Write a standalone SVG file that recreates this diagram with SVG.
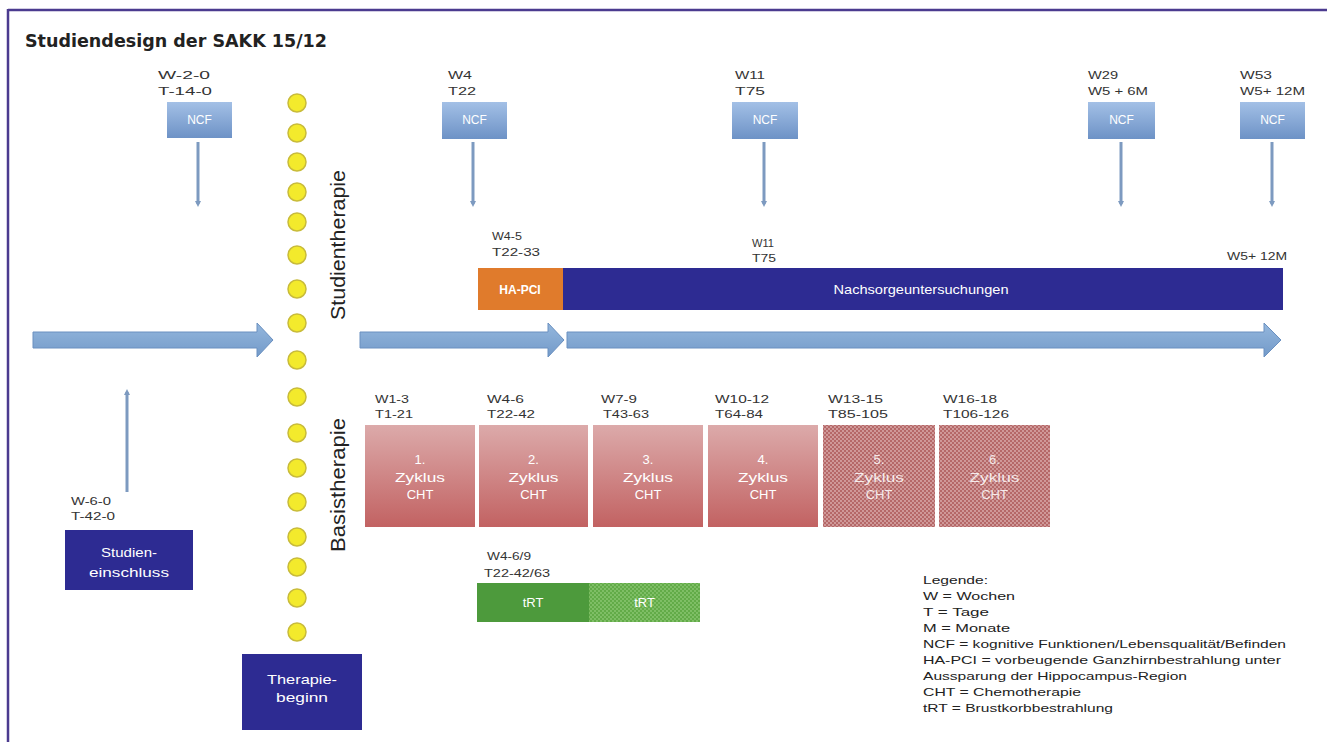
<svg xmlns="http://www.w3.org/2000/svg" width="1327" height="742" viewBox="0 0 1327 742">
<defs>
<linearGradient id="ncfG" x1="0" y1="0" x2="0" y2="1"><stop offset="0" stop-color="#a3c0e6"/><stop offset="1" stop-color="#6d92c6"/></linearGradient>
<linearGradient id="cycG" x1="0" y1="0" x2="0" y2="1"><stop offset="0" stop-color="#dcaaaa"/><stop offset="1" stop-color="#c26262"/></linearGradient>
<linearGradient id="arrG" x1="0" y1="0" x2="0" y2="1"><stop offset="0" stop-color="#94b7dd"/><stop offset="1" stop-color="#739ac9"/></linearGradient>
<pattern id="dotP" width="4" height="4" patternUnits="userSpaceOnUse"><rect width="4" height="4" fill="#b56868"/><circle cx="1" cy="1" r="0.9" fill="#dcb0b0"/><circle cx="3" cy="3" r="0.9" fill="#dcb0b0"/></pattern>
<pattern id="greenP" width="4" height="4" patternUnits="userSpaceOnUse"><rect width="4" height="4" fill="#62ab48"/><circle cx="1" cy="1" r="0.9" fill="#8cc873"/><circle cx="3" cy="3" r="0.9" fill="#8cc873"/></pattern>
<marker id="ah" markerWidth="6" markerHeight="6" refX="3" refY="3" orient="auto" markerUnits="userSpaceOnUse"><path d="M0,0 L6,3 L0,6 Z" fill="#7d9ac0"/></marker>
</defs>
<style>
.lbl{font-family:"Liberation Sans",Arial,sans-serif;font-size:10px;fill:#333}
.wt{font-family:"Liberation Sans",Arial,sans-serif;fill:#fff;text-anchor:middle}
.ncf{fill:url(#ncfG)}
.cyc{fill:url(#cycG)}
.dot{fill:#f3ea2c;stroke:#c8bb3a;stroke-width:1.5}
.vline{stroke:#7d9ac0;stroke-width:3;fill:none}
.arr{fill:url(#arrG);stroke:#6a90c0;stroke-width:1}
.dark{fill:#2d2b92}
.leg{font-family:"Liberation Sans",Arial,sans-serif;font-size:11.5px;fill:#222}
.vt{font-family:"Liberation Sans",Arial,sans-serif;font-size:21px;fill:#222}
</style>
<rect width="1327" height="742" fill="#fff"/>
<g id="frame">
<line x1="8" y1="10" x2="1327" y2="10" stroke="#4b3b8f" stroke-width="2.5"/>
<line x1="8" y1="9" x2="8" y2="742" stroke="#4b3b8f" stroke-width="2.5"/>
</g>
<text id="title" x="25" y="47" font-family="DejaVu Sans, sans-serif" font-weight="bold" font-size="17" fill="#222" textLength="302" lengthAdjust="spacingAndGlyphs">Studiendesign der SAKK 15/12</text>

<g id="connectors">
<line class="vline" x1="198" y1="142" x2="198" y2="204" marker-end="url(#ah)"/>
<line class="vline" x1="473" y1="142" x2="473" y2="204" marker-end="url(#ah)"/>
<line class="vline" x1="764" y1="142" x2="764" y2="204" marker-end="url(#ah)"/>
<line class="vline" x1="1121" y1="142" x2="1121" y2="204" marker-end="url(#ah)"/>
<line class="vline" x1="1272" y1="142" x2="1272" y2="204" marker-end="url(#ah)"/>
<line class="vline" x1="127" y1="492" x2="127" y2="392" marker-end="url(#ah)"/>
<path class="arr" d="M33,332 H257 V323 L273,340 L257,357 V348 H33 Z"/>
<path class="arr" d="M360,332 H548 V323 L564,340 L548,357 V348 H360 Z"/>
<path class="arr" d="M567,332 H1264 V323 L1281,340 L1264,357 V348 H567 Z"/>
</g>

<g id="ncf1"><text class="lbl" x="158" y="79" textLength="52" lengthAdjust="spacingAndGlyphs">W-2-0</text><text class="lbl" x="158" y="95" textLength="54" lengthAdjust="spacingAndGlyphs">T-14-0</text><rect class="ncf" x="167" y="102" width="65" height="36"/><text class="wt" x="199.5" y="124" font-size="12">NCF</text></g>
<g id="ncf2"><text class="lbl" x="448" y="79" textLength="24" lengthAdjust="spacingAndGlyphs">W4</text><text class="lbl" x="448" y="95" textLength="28" lengthAdjust="spacingAndGlyphs">T22</text><rect class="ncf" x="442" y="102" width="65" height="37"/><text class="wt" x="474.5" y="124" font-size="12">NCF</text></g>
<g id="ncf3"><text class="lbl" x="735" y="79" textLength="30" lengthAdjust="spacingAndGlyphs">W11</text><text class="lbl" x="735" y="95" textLength="30" lengthAdjust="spacingAndGlyphs">T75</text><rect class="ncf" x="732" y="102" width="66" height="37"/><text class="wt" x="765" y="124" font-size="12">NCF</text></g>
<g id="ncf4"><text class="lbl" x="1088" y="79" textLength="30" lengthAdjust="spacingAndGlyphs">W29</text><text class="lbl" x="1088" y="95" textLength="60" lengthAdjust="spacingAndGlyphs">W5 + 6M</text><rect class="ncf" x="1088" y="102" width="67" height="37"/><text class="wt" x="1121.5" y="124" font-size="12">NCF</text></g>
<g id="ncf5"><text class="lbl" x="1240" y="79" textLength="32" lengthAdjust="spacingAndGlyphs">W53</text><text class="lbl" x="1240" y="95" textLength="65" lengthAdjust="spacingAndGlyphs">W5+ 12M</text><rect class="ncf" x="1240" y="102" width="65" height="37"/><text class="wt" x="1272.5" y="124" font-size="12">NCF</text></g>

<g id="dots">
<circle class="dot" cx="297" cy="103" r="9"/><circle class="dot" cx="297" cy="133" r="9"/><circle class="dot" cx="297" cy="162" r="9"/><circle class="dot" cx="297" cy="192" r="9"/><circle class="dot" cx="297" cy="222" r="9"/><circle class="dot" cx="297" cy="255" r="9"/><circle class="dot" cx="297" cy="289" r="9"/><circle class="dot" cx="297" cy="323" r="9"/><circle class="dot" cx="297" cy="360" r="9"/><circle class="dot" cx="297" cy="397" r="9"/><circle class="dot" cx="297" cy="433" r="9"/><circle class="dot" cx="297" cy="468" r="9"/><circle class="dot" cx="297" cy="502" r="9"/><circle class="dot" cx="297" cy="537" r="9"/><circle class="dot" cx="297" cy="567" r="9"/><circle class="dot" cx="297" cy="598" r="9"/><circle class="dot" cx="297" cy="632" r="9"/>
</g>

<text id="studientherapie" class="vt" transform="translate(345,245) rotate(-90)" text-anchor="middle" textLength="150" lengthAdjust="spacingAndGlyphs">Studientherapie</text>
<text id="basistherapie" class="vt" transform="translate(345,485) rotate(-90)" text-anchor="middle" textLength="134" lengthAdjust="spacingAndGlyphs">Basistherapie</text>

<g id="hapci"><text class="lbl" x="492" y="240" textLength="30" lengthAdjust="spacingAndGlyphs">W4-5</text><text class="lbl" x="492" y="256" textLength="48" lengthAdjust="spacingAndGlyphs">T22-33</text><rect x="478" y="268" width="85" height="42" fill="#e07b2c"/><text class="wt" x="520" y="294" font-size="12" font-weight="bold">HA-PCI</text></g>
<g id="nachsorge"><text class="lbl" x="752" y="247" textLength="22" lengthAdjust="spacingAndGlyphs">W11</text><text class="lbl" x="752" y="262" textLength="24" lengthAdjust="spacingAndGlyphs">T75</text><text class="lbl" x="1227" y="260" textLength="60" lengthAdjust="spacingAndGlyphs">W5+ 12M</text><rect class="dark" x="563" y="268" width="720" height="42"/><text class="wt" x="921" y="294" font-size="13" textLength="175" lengthAdjust="spacingAndGlyphs">Nachsorgeuntersuchungen</text></g>

<g id="studieneinschluss"><text class="lbl" x="71" y="505" textLength="40" lengthAdjust="spacingAndGlyphs">W-6-0</text><text class="lbl" x="71" y="520" textLength="44" lengthAdjust="spacingAndGlyphs">T-42-0</text><rect class="dark" x="65" y="530" width="128" height="60"/><text class="wt" x="129" y="557" font-size="13" textLength="56" lengthAdjust="spacingAndGlyphs">Studien-</text><text class="wt" x="129" y="577" font-size="13" textLength="80" lengthAdjust="spacingAndGlyphs">einschluss</text></g>
<g id="therapiebeginn"><rect class="dark" x="242" y="654" width="120" height="76"/><text class="wt" x="302" y="684" font-size="13" textLength="70" lengthAdjust="spacingAndGlyphs">Therapie-</text><text class="wt" x="302" y="702" font-size="13" textLength="52" lengthAdjust="spacingAndGlyphs">beginn</text></g>

<g id="z1"><text class="lbl" x="375" y="403" textLength="34" lengthAdjust="spacingAndGlyphs">W1-3</text><text class="lbl" x="375" y="418" textLength="38" lengthAdjust="spacingAndGlyphs">T1-21</text><rect class="cyc" x="365" y="425" width="110" height="102"/><text class="wt" x="420" y="464" font-size="13">1.</text><text class="wt" x="420" y="482" font-size="13" textLength="50" lengthAdjust="spacingAndGlyphs">Zyklus</text><text class="wt" x="420" y="499" font-size="13">CHT</text></g>
<g id="z2"><text class="lbl" x="487" y="403" textLength="37" lengthAdjust="spacingAndGlyphs">W4-6</text><text class="lbl" x="487" y="418" textLength="48" lengthAdjust="spacingAndGlyphs">T22-42</text><rect class="cyc" x="479" y="425" width="109" height="102"/><text class="wt" x="533.5" y="464" font-size="13">2.</text><text class="wt" x="533.5" y="482" font-size="13" textLength="50" lengthAdjust="spacingAndGlyphs">Zyklus</text><text class="wt" x="533.5" y="499" font-size="13">CHT</text></g>
<g id="z3"><text class="lbl" x="601" y="403" textLength="36" lengthAdjust="spacingAndGlyphs">W7-9</text><text class="lbl" x="603" y="418" textLength="46" lengthAdjust="spacingAndGlyphs">T43-63</text><rect class="cyc" x="593" y="425" width="110" height="102"/><text class="wt" x="648" y="464" font-size="13">3.</text><text class="wt" x="648" y="482" font-size="13" textLength="50" lengthAdjust="spacingAndGlyphs">Zyklus</text><text class="wt" x="648" y="499" font-size="13">CHT</text></g>
<g id="z4"><text class="lbl" x="715" y="403" textLength="54" lengthAdjust="spacingAndGlyphs">W10-12</text><text class="lbl" x="715" y="418" textLength="48" lengthAdjust="spacingAndGlyphs">T64-84</text><rect class="cyc" x="708" y="425" width="110" height="102"/><text class="wt" x="763" y="464" font-size="13">4.</text><text class="wt" x="763" y="482" font-size="13" textLength="50" lengthAdjust="spacingAndGlyphs">Zyklus</text><text class="wt" x="763" y="499" font-size="13">CHT</text></g>
<g id="z5"><text class="lbl" x="828" y="403" textLength="55" lengthAdjust="spacingAndGlyphs">W13-15</text><text class="lbl" x="828" y="418" textLength="60" lengthAdjust="spacingAndGlyphs">T85-105</text><rect x="823" y="425" width="112" height="102" fill="url(#dotP)"/><text class="wt" x="879" y="464" font-size="13" fill-opacity="0.85">5.</text><text class="wt" x="879" y="482" font-size="13" textLength="50" lengthAdjust="spacingAndGlyphs" fill-opacity="0.85">Zyklus</text><text class="wt" x="879" y="499" font-size="13" fill-opacity="0.85">CHT</text></g>
<g id="z6"><text class="lbl" x="943" y="403" textLength="54" lengthAdjust="spacingAndGlyphs">W16-18</text><text class="lbl" x="943" y="418" textLength="66" lengthAdjust="spacingAndGlyphs">T106-126</text><rect x="939" y="425" width="111" height="102" fill="url(#dotP)"/><text class="wt" x="994.5" y="464" font-size="13" fill-opacity="0.85">6.</text><text class="wt" x="994.5" y="482" font-size="13" textLength="50" lengthAdjust="spacingAndGlyphs" fill-opacity="0.85">Zyklus</text><text class="wt" x="994.5" y="499" font-size="13" fill-opacity="0.85">CHT</text></g>

<g id="trt"><text class="lbl" x="487" y="560" textLength="44" lengthAdjust="spacingAndGlyphs">W4-6/9</text><text class="lbl" x="484" y="577" textLength="66" lengthAdjust="spacingAndGlyphs">T22-42/63</text><rect x="477" y="583" width="112" height="39" fill="#4d9a3c"/><rect x="589" y="583" width="111" height="39" fill="url(#greenP)"/><text class="wt" x="533" y="607" font-size="13">tRT</text><text class="wt" x="644.5" y="607" font-size="13">tRT</text></g>

<g id="legende">
<text class="leg" x="923" y="584" textLength="65" lengthAdjust="spacingAndGlyphs">Legende:</text>
<text class="leg" x="923" y="600" textLength="92" lengthAdjust="spacingAndGlyphs">W = Wochen</text>
<text class="leg" x="923" y="616" textLength="66" lengthAdjust="spacingAndGlyphs">T = Tage</text>
<text class="leg" x="923" y="632" textLength="87" lengthAdjust="spacingAndGlyphs">M = Monate</text>
<text class="leg" x="923" y="648" textLength="363" lengthAdjust="spacingAndGlyphs">NCF = kognitive Funktionen/Lebensqualität/Befinden</text>
<text class="leg" x="923" y="664" textLength="358" lengthAdjust="spacingAndGlyphs">HA-PCI = vorbeugende Ganzhirnbestrahlung unter</text>
<text class="leg" x="923" y="680" textLength="264" lengthAdjust="spacingAndGlyphs">Aussparung der Hippocampus-Region</text>
<text class="leg" x="923" y="696" textLength="158" lengthAdjust="spacingAndGlyphs">CHT = Chemotherapie</text>
<text class="leg" x="923" y="712" textLength="190" lengthAdjust="spacingAndGlyphs">tRT = Brustkorbbestrahlung</text>
</g>
</svg>
